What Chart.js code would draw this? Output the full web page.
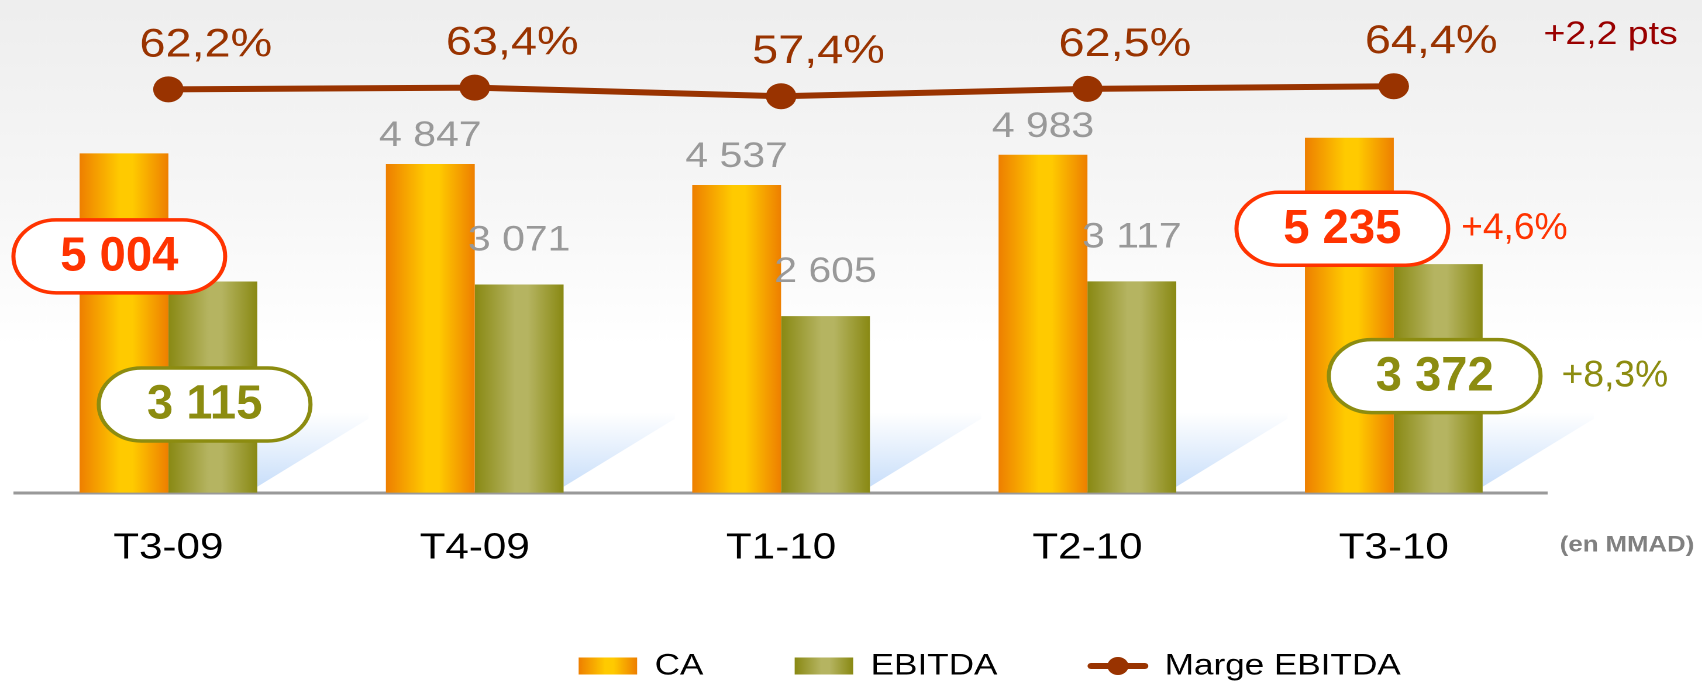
<!DOCTYPE html>
<html lang="fr">
<head>
<meta charset="utf-8">
<title>CA, EBITDA et marge EBITDA</title>
<script src="https://cdn.jsdelivr.net/npm/chart.js@4.4.1/dist/chart.umd.min.js"></script>
<style>
  html, body { margin: 0; padding: 0; background: #fff; overflow: hidden; }
  /* the source slide is stretched horizontally, so the whole chart is too */
  #stage { width: 1455px; height: 682px; transform: scaleX(1.1698); transform-origin: 0 0; }
</style>
</head>
<body>
<div id="stage"><canvas id="chart"></canvas></div>
<script>
// ---- data (en MMAD) ----
const quarters = ['T3-09', 'T4-09', 'T1-10', 'T2-10', 'T3-10'];
const caValues = [5004, 4847, 4537, 4983, 5235];
const ebitdaValues = [3115, 3071, 2605, 3117, 3372];
const margeValues = [62.2, 63.4, 57.4, 62.5, 64.4];
const seriesNames = ['CA', 'EBITDA', 'Marge EBITDA'];
// change T3-10 vs T3-09
const growthCA = '+4,6%';
const growthEBITDA = '+8,3%';
const growthMarge = '+2,2 pts';
const unitNote = '(en MMAD)';

const FONT = "'Liberation Sans', Arial, sans-serif";
const CAT_PCT = 0.58;
const TICK_PAD = 26;
const TICK_SIZE = 36;
const CA_COLORS = { edge: '#ee7f00', mid: '#ffca00', text: '#ff3300' };
const EBITDA_COLORS = { edge: '#898913', mid: '#b5b461', text: '#8c8c10' };
const MARGE_COLOR = '#993300';
const LEGEND_X = 846;
const LEGEND_Y = 666;

// first and last quarters get a rounded callout instead of a plain label
const callouts = [
  { ds: 0, idx: 0, dx: -4, dy: 103, colors: CA_COLORS },
  { ds: 1, idx: 0, dx: -7, dy: 123, colors: EBITDA_COLORS },
  { ds: 0, idx: 4, dx: -6, dy: 91, colors: CA_COLORS, note: growthCA, gap: 11 },
  { ds: 1, idx: 4, dx: -3, dy: 112, colors: EBITDA_COLORS, note: growthEBITDA, gap: 18 },
];

const fmtNum = (v) => String(v).replace(/\B(?=(\d{3})+(?!\d))/g, ' ');
const fmtPct = (v) => v.toFixed(1).replace('.', ',') + '%';

function hGradient(ctx, left, width, colors) {
  const g = ctx.createLinearGradient(left, 0, left + width, 0);
  g.addColorStop(0, colors.edge);
  g.addColorStop(0.45, colors.mid);
  g.addColorStop(0.6, colors.mid);
  g.addColorStop(1, colors.edge);
  return g;
}

/** Bar fill: vertical "cylinder" gradient, placed from the category scale. */
function barFill(colors, side) {
  return (c) => {
    const xs = c.chart.scales.x;
    if (c.type !== 'data' || !xs) return colors.edge;
    const w = (xs.width / quarters.length) * CAT_PCT / 2;
    const center = xs.getPixelForValue(c.dataIndex);
    const left = side === 0 ? center - w : center;
    return hGradient(c.chart.ctx, left, w, colors);
  };
}

function drawText(ctx, text, x, y, opts) {
  ctx.save();
  ctx.font = opts.font;
  ctx.fillStyle = opts.color;
  ctx.textAlign = opts.align || 'center';
  ctx.textBaseline = opts.baseline || 'alphabetic';
  ctx.translate(x, y);
  ctx.scale(opts.sx || 1, 1);
  ctx.fillText(text, 0, 0);
  ctx.restore();
}

function roundBox(ctx, cx, cy, w, h, stroke) {
  const r = h / 2;
  const l = cx - w / 2, t = cy - h / 2;
  ctx.beginPath();
  ctx.moveTo(l + r, t);
  ctx.lineTo(l + w - r, t);
  ctx.arc(l + w - r, cy, r, -Math.PI / 2, Math.PI / 2);
  ctx.lineTo(l + r, t + h);
  ctx.arc(l + r, cy, r, Math.PI / 2, Math.PI * 1.5);
  ctx.closePath();
  ctx.fillStyle = '#ffffff';
  ctx.fill();
  ctx.lineWidth = 3.5;
  ctx.strokeStyle = stroke;
  ctx.stroke();
}

const decorPlugin = {
  id: 'decor',
  beforeDraw(chart) {
    const { ctx, width, height } = chart;
    const g = ctx.createLinearGradient(0, 0, 0, height);
    g.addColorStop(0, '#eeeeee');
    g.addColorStop(0.3, '#f7f7f7');
    g.addColorStop(0.5, '#ffffff');
    ctx.save();
    ctx.fillStyle = g;
    ctx.fillRect(0, 0, width, height);
    ctx.restore();
  },
  afterLayout(chart) {
    // move the legend row to where the slide has it
    const lg = chart.legend;
    const dx = LEGEND_X - (lg.left + lg.right) / 2;
    const dy = LEGEND_Y - (lg.top + lg.options.labels.padding + lg.options.labels.font.size / 2);
    lg.left += dx; lg.right += dx;
    lg.top += dy; lg.bottom += dy;
  },
  beforeDatasetsDraw(chart) {
    // light blue reflections to the right of each EBITDA bar
    const ctx = chart.ctx;
    ctx.save();
    chart.getDatasetMeta(1).data.forEach((bar) => {
      const r = bar.x + bar.width / 2;
      const base = bar.base;
      const g = ctx.createLinearGradient(0, base - 80, 0, base);
      g.addColorStop(0, 'rgba(200,222,250,0)');
      g.addColorStop(1, 'rgba(196,220,250,1)');
      ctx.fillStyle = g;
      ctx.beginPath();
      ctx.moveTo(r, base - 6);
      ctx.lineTo(r + 95, base - 74);
      ctx.lineTo(r + 95, base - 80);
      ctx.lineTo(r, base - 80);
      ctx.closePath();
      ctx.fill();
    });
    ctx.restore();
  },
  afterDatasetsDraw(chart) {
    const ctx = chart.ctx;
    const valueSets = [caValues, ebitdaValues];
    const lift = [18, 34];

    // plain grey value labels
    [0, 1].forEach((ds) => {
      chart.getDatasetMeta(ds).data.forEach((bar, i) => {
        if (callouts.some((c) => c.ds === ds && c.idx === i)) return;
        drawText(ctx, fmtNum(valueSets[ds][i]), bar.x, bar.y - lift[ds],
          { font: `35px ${FONT}`, color: '#999999' });
      });
    });

    // rounded callouts
    callouts.forEach((c) => {
      const bar = chart.getDatasetMeta(c.ds).data[c.idx];
      const cx = bar.x + c.dx, cy = bar.y + c.dy;
      const w = 181, h = 73;
      roundBox(ctx, cx, cy, w, h, c.colors.text);
      drawText(ctx, fmtNum(valueSets[c.ds][c.idx]), cx, cy + 1,
        { font: `bold 48px ${FONT}`, color: c.colors.text, baseline: 'middle', sx: 0.84 });
      if (c.note) {
        drawText(ctx, c.note, cx + w / 2 + c.gap, cy, {
          font: `37px ${FONT}`, color: c.colors.text, align: 'left', baseline: 'middle', sx: 0.86,
        });
      }
    });

    // margin labels above the line
    const pts = chart.getDatasetMeta(2).data;
    pts.forEach((p, i) => {
      drawText(ctx, fmtPct(margeValues[i]), p.x + 32, p.y - 33,
        { font: `40px ${FONT}`, color: MARGE_COLOR });
    });
    const last = pts[pts.length - 1];
    drawText(ctx, growthMarge, last.x + 128, last.y - 51,
      { font: `32px ${FONT}`, color: '#990000', align: 'left', baseline: 'middle' });
  },
  afterDraw(chart) {
    const ctx = chart.ctx;
    const lg = chart.legend;
    const { boxWidth, boxHeight } = lg.options.labels;
    ctx.save();
    lg.legendHitBoxes.forEach((hb, i) => {
      const cy = hb.top + hb.height / 2;
      if (i < 2) {
        ctx.fillStyle = hGradient(ctx, hb.left, boxWidth, i === 0 ? CA_COLORS : EBITDA_COLORS);
        ctx.fillRect(hb.left, cy - boxHeight / 2, boxWidth, boxHeight);
      } else {
        ctx.strokeStyle = MARGE_COLOR;
        ctx.lineWidth = 6;
        ctx.lineCap = 'round';
        ctx.beginPath();
        ctx.moveTo(hb.left + 2, cy);
        ctx.lineTo(hb.left + boxWidth - 2, cy);
        ctx.stroke();
        ctx.fillStyle = MARGE_COLOR;
        ctx.beginPath();
        ctx.arc(hb.left + boxWidth / 2, cy, 9, 0, Math.PI * 2);
        ctx.fill();
      }
    });
    ctx.restore();

    const xs = chart.scales.x;
    drawText(ctx, unitNote, chart.chartArea.right + 11, xs.top + TICK_PAD + TICK_SIZE * 0.6 + 5,
      { font: `bold 22px ${FONT}`, color: '#808080', align: 'left', baseline: 'middle' });
  },
};

new Chart(document.getElementById('chart'), {
  type: 'bar',
  data: {
    labels: quarters,
    datasets: [
      {
        label: seriesNames[0],
        data: caValues,
        backgroundColor: barFill(CA_COLORS, 0),
        borderWidth: 0,
        barPercentage: 1,
        categoryPercentage: CAT_PCT,
        yAxisID: 'y',
        order: 1,
      },
      {
        label: seriesNames[1],
        data: ebitdaValues,
        backgroundColor: barFill(EBITDA_COLORS, 1),
        borderWidth: 0,
        barPercentage: 1,
        categoryPercentage: CAT_PCT,
        yAxisID: 'y',
        order: 1,
      },
      {
        type: 'line',
        label: seriesNames[2],
        data: margeValues,
        borderColor: MARGE_COLOR,
        backgroundColor: MARGE_COLOR,
        borderWidth: 6,
        tension: 0,
        fill: false,
        pointRadius: 13,
        pointHoverRadius: 13,
        pointBorderWidth: 0,
        pointBackgroundColor: MARGE_COLOR,
        yAxisID: 'y2',
        order: 0,
      },
    ],
  },
  options: {
    responsive: true,
    maintainAspectRatio: false,
    devicePixelRatio: 2,
    animation: false,
    events: [],
    layout: { padding: { top: 20, left: 12.6, right: 132.6, bottom: -32 } },
    plugins: {
      tooltip: { enabled: false },
      legend: {
        position: 'bottom',
        labels: {
          color: '#000000',
          font: { family: FONT, size: 30 },
          boxWidth: 50,
          boxHeight: 17,
          padding: 78,
          generateLabels: () => seriesNames.map((text, i) => ({
            text,
            fillStyle: 'rgba(0,0,0,0)',
            strokeStyle: 'rgba(0,0,0,0)',
            lineWidth: 0,
            hidden: false,
            datasetIndex: i,
          })),
        },
      },
    },
    scales: {
      x: {
        grid: { display: false },
        border: { color: '#999999', width: 3 },
        ticks: {
          color: '#000000',
          font: { family: FONT, size: TICK_SIZE },
          padding: TICK_PAD,
          maxRotation: 0,
          autoSkip: false,
        },
      },
      y: { display: false, min: 0, max: 6970 },
      y2: { display: false, min: -219.4, max: 110.6 },
    },
  },
  plugins: [decorPlugin],
});
</script>
</body>
</html>
